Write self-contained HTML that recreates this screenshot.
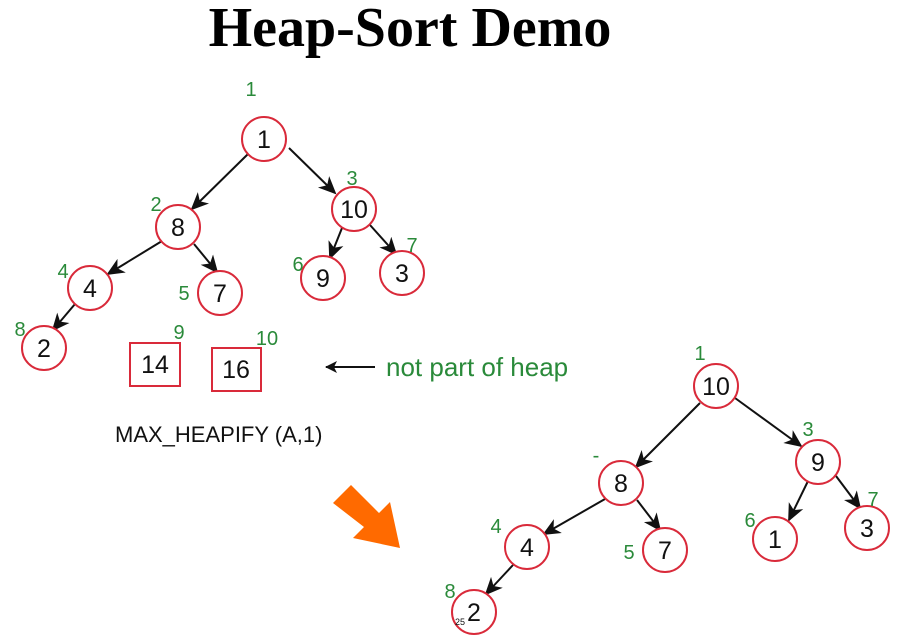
<!DOCTYPE html>
<html><head><style>
html,body{margin:0;padding:0;background:#fff;}
svg{display:block}
.t{font-family:"Liberation Sans",sans-serif;}
</style></head><body>
<svg width="909" height="642" xmlns="http://www.w3.org/2000/svg">
<defs>
<marker id="a" markerWidth="12" markerHeight="12" refX="11" refY="6" orient="auto" markerUnits="userSpaceOnUse" viewBox="0 0 12 12">
<path d="M0,0 L12,6 L0,12 L3,6 z" fill="#111"/></marker>
<marker id="b" markerWidth="18" markerHeight="18" refX="16" refY="9" orient="auto" markerUnits="userSpaceOnUse" viewBox="0 0 18 18">
<path d="M0,1 L18,9 L0,17 L5,9 z" fill="#111"/></marker>
</defs>
<text x="410" y="46" text-anchor="middle" font-family="Liberation Serif,serif" font-weight="bold" font-size="56">Heap-Sort Demo</text>
<g stroke="#111" stroke-width="2" fill="none" marker-end="url(#b)">
<line x1="248" y1="154" x2="192" y2="209"/>
<line x1="289" y1="148" x2="335" y2="193"/>
<line x1="162" y1="241" x2="108" y2="274"/>
<line x1="194" y1="244" x2="217" y2="272"/>
<line x1="342" y1="228" x2="330" y2="258"/>
<line x1="370" y1="225" x2="396" y2="254"/>
<line x1="75" y1="304" x2="53" y2="330"/>
<line x1="700" y1="403" x2="636" y2="467"/>
<line x1="735" y1="398" x2="801" y2="446"/>
<line x1="605" y1="499" x2="544" y2="534"/>
<line x1="637" y1="500" x2="660" y2="530"/>
<line x1="809" y1="479" x2="789" y2="520"/>
<line x1="836" y1="476" x2="860" y2="508"/>
<line x1="513" y1="565" x2="486" y2="594"/>
</g>
<g stroke="#d92a3a" stroke-width="2" fill="#fff">
<circle cx="264" cy="139" r="22"/><circle cx="178" cy="227" r="22"/><circle cx="354" cy="209" r="22"/>
<circle cx="90" cy="288" r="22"/><circle cx="220" cy="293" r="22"/><circle cx="323" cy="278" r="22"/>
<circle cx="402" cy="273" r="22"/><circle cx="44" cy="348" r="22"/>
<rect x="130" y="343" width="50" height="43"/><rect x="212" y="348" width="49" height="43"/>
<circle cx="716" cy="386" r="22"/><circle cx="818" cy="462" r="22"/><circle cx="621" cy="483" r="22"/>
<circle cx="527" cy="547" r="22"/><circle cx="665" cy="550" r="22"/><circle cx="775" cy="539" r="22"/>
<circle cx="867" cy="528" r="22"/><circle cx="474" cy="612" r="22"/>
</g>
<g class="t" font-size="25" text-anchor="middle" fill="#111">
<text x="264" y="148">1</text><text x="178" y="236">8</text><text x="354" y="218">10</text>
<text x="90" y="297">4</text><text x="220" y="302">7</text><text x="323" y="287">9</text>
<text x="402" y="282">3</text><text x="44" y="357">2</text>
<text x="155" y="373">14</text><text x="236" y="378">16</text>
<text x="716" y="395">10</text><text x="818" y="471">9</text><text x="621" y="492">8</text>
<text x="527" y="556">4</text><text x="665" y="559">7</text><text x="775" y="548">1</text>
<text x="867" y="537">3</text><text x="474" y="621">2</text>
</g>
<g class="t" font-size="20" text-anchor="middle" fill="#2a8a3a">
<text x="251" y="96">1</text><text x="156" y="211">2</text><text x="352" y="185">3</text>
<text x="63" y="278">4</text><text x="184" y="300">5</text><text x="298" y="271">6</text>
<text x="412" y="252">7</text><text x="20" y="336">8</text><text x="179" y="339">9</text>
<text x="267" y="345">10</text>
<text x="700" y="360">1</text><text x="808" y="436">3</text><text x="873" y="506">7</text>
<text x="750" y="527">6</text><text x="496" y="533">4</text><text x="629" y="559">5</text>
<text x="450" y="598">8</text><text x="596" y="462">-</text>
</g>
<line x1="375" y1="367" x2="326" y2="367" stroke="#111" stroke-width="2" marker-end="url(#a)"/>
<text class="t" x="386" y="376" font-size="26" fill="#2a8a3a">not part of heap</text>
<text class="t" x="115" y="442" font-size="22" fill="#111">MAX_HEAPIFY (A,1)</text>
<polygon points="333,503 351,485 379,513 390,502 400,548 353,538 364,527" fill="#ff6a00"/>
<text class="t" x="455" y="625" font-size="9" fill="#111">25</text>
</svg>
</body></html>
